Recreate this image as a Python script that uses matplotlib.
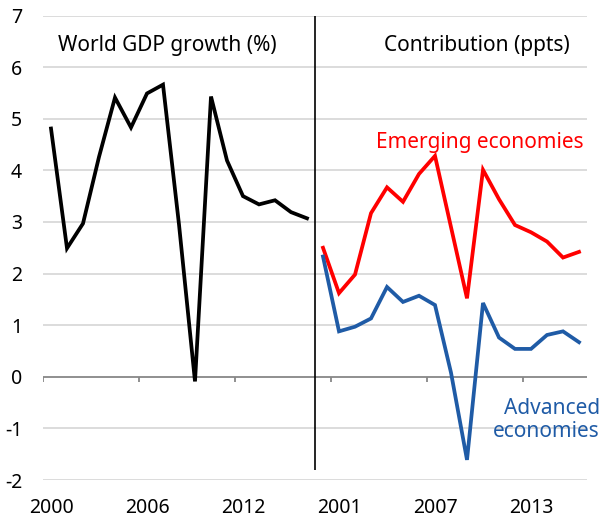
import numpy as np
import matplotlib
matplotlib.use("Agg")
import matplotlib.pyplot as plt

plt.rcParams['font.family'] = ['Noto Sans', 'DejaVu Sans']

years = list(range(2000, 2017))
world_gdp = [4.81, 2.49, 2.97, 4.26, 5.41, 4.83, 5.49, 5.66, 2.95, -0.09,
             5.43, 4.19, 3.50, 3.34, 3.42, 3.19, 3.07]
emerging = [2.50, 1.62, 1.98, 3.17, 3.67, 3.39, 3.93, 4.28, 2.90, 1.52,
            4.01, 3.44, 2.94, 2.80, 2.62, 2.31, 2.42]
advanced = [2.33, 0.88, 0.97, 1.13, 1.74, 1.45, 1.57, 1.39, 0.08, -1.61,
            1.43, 0.76, 0.54, 0.54, 0.81, 0.88, 0.67]
yticks = list(range(-2, 8))
tick_years = [2000, 2006, 2012, 2001, 2007, 2013]

RED = '#ff0000'
BLUE = '#1f5ba6'

n = len(years)
# one category axis: left panel 0..n-1, right panel n..2n-1
x_left = np.arange(n) + 0.5
x_right = np.arange(n) + n + 0.5
ncat = 2 * n

fig = plt.figure(figsize=(6.02, 5.18), dpi=100)
ax = fig.add_axes([43 / 602, 38 / 518, 544 / 602, 464.5 / 518])
ax.set_xlim(0, ncat)
ax.set_ylim(-2, 7)

for v in yticks:
    if v != 0:
        ax.axhline(v, color='#d9d9d9', lw=1.3, zorder=0)
ax.axhline(0, color='#878787', lw=1.3, zorder=1)

# tick marks every 6 categories, hanging below the zero line
tick_idx = np.arange(0, ncat, 6)
ax.vlines(tick_idx, -0.1, 0, color='#878787', lw=1.3, zorder=1)

ax.plot(x_left, world_gdp, color='black', lw=2.7, solid_joinstyle='miter', zorder=3)
ax.plot(x_right, emerging, color=RED, lw=2.7, solid_joinstyle='miter', zorder=3)
ax.plot(x_right, advanced, color=BLUE, lw=2.7, solid_joinstyle='miter', zorder=3)

# divider between the two panels
ax.vlines(n, -1.8, 7, color='black', lw=1.2, zorder=2)

label_pos = [x_left[years.index(y)] if i < 3 else x_right[years.index(y)]
             for i, y in enumerate(tick_years)]
ax.set_xticks(label_pos)
ax.set_xticklabels([str(y) for y in tick_years], fontsize=14)
ax.set_yticks(yticks)
ax.set_yticklabels([str(v) for v in yticks], fontsize=14)
ax.tick_params(axis='x', length=0, pad=13)
ax.tick_params(axis='y', length=0, pad=15)
for s in ax.spines.values():
    s.set_visible(False)

fs = 15
ax.text(7.8, 6.42, 'World GDP growth (%)', ha='center', va='center', fontsize=fs)
ax.text(32.9, 6.42, 'Contribution (ppts)', ha='right', va='center', fontsize=fs)
ax.text(33.8, 4.53, 'Emerging economies', ha='right', va='center', fontsize=fs, color=RED)
ax.text(34.8, -0.84, 'Advanced\neconomies', ha='right', va='center', fontsize=fs,
        color=BLUE, linespacing=1.1, clip_on=False)

fig.savefig('out.png', dpi=100)
